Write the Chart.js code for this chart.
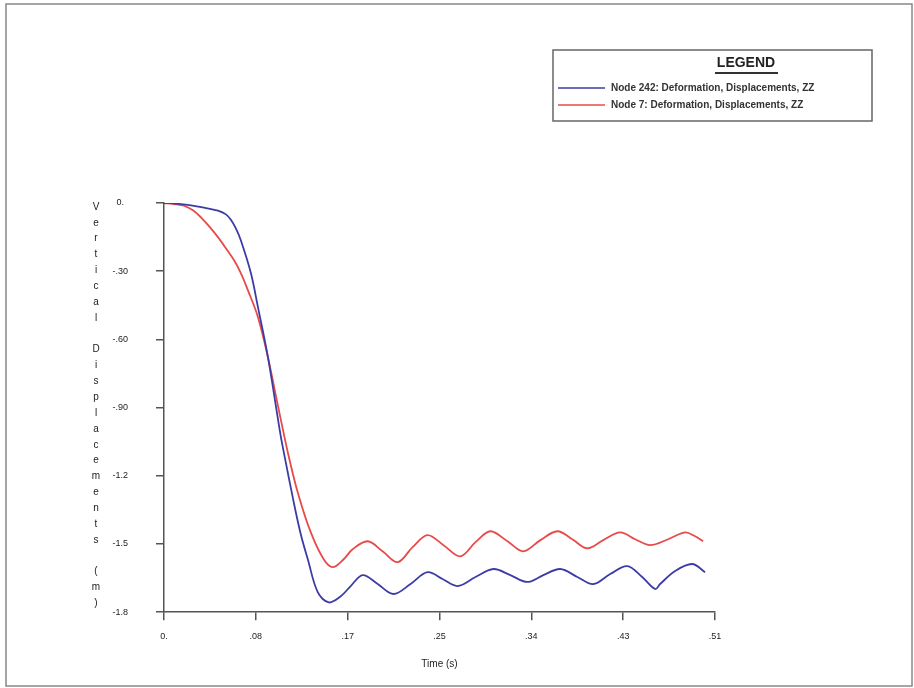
<!DOCTYPE html>
<html>
<head>
<meta charset="utf-8">
<script src="https://cdn.jsdelivr.net/npm/chart.js@4"></script>
<style>
  body { margin: 0; background: #fff; }
</style>
</head>
<body>
<canvas id="chart" width="914" height="688"></canvas>
<script>
// Axis ticks
const xTickValues = [0, 0.085, 0.17, 0.255, 0.34, 0.425, 0.51];
const xTickLabels = ['0.', '.08', '.17', '.25', '.34', '.43', '.51'];
const yTickValues = [0, -0.3, -0.6, -0.9, -1.2, -1.5, -1.8];
const yTickLabels = ['0.', '-.30', '-.60', '-.90', '-1.2', '-1.5', '-1.8'];

// Node 242 (blue) - time (s) / vertical displacement (m)
const node242Time = [0, 0.0065, 0.025, 0.0388, 0.0499, 0.0573, 0.0619, 0.0665, 0.0711, 0.0804,
  0.0869, 0.0961, 0.1081, 0.1109, 0.1201, 0.1266, 0.1331, 0.1423, 0.1525, 0.1636,
  0.1728, 0.1839, 0.1978, 0.2125, 0.2282, 0.2439, 0.2578, 0.2717, 0.2883, 0.3049,
  0.3206, 0.3363, 0.3511, 0.3668, 0.3826, 0.3973, 0.4130, 0.4287, 0.4426, 0.4546,
  0.4592, 0.4731, 0.4888, 0.5008];
const node242Disp = [0, -0.001, -0.010, -0.023, -0.034, -0.050, -0.074, -0.112, -0.164, -0.308,
  -0.457, -0.676, -1.027, -1.097, -1.317, -1.457, -1.567, -1.712, -1.757, -1.730,
  -1.685, -1.637, -1.676, -1.720, -1.676, -1.624, -1.654, -1.685, -1.645, -1.610,
  -1.637, -1.667, -1.637, -1.610, -1.645, -1.676, -1.632, -1.597, -1.645, -1.698,
  -1.676, -1.619, -1.588, -1.624];

// Node 7 (red)
const node7Time = [0, 0.0111, 0.0185, 0.0268, 0.0342, 0.0416, 0.0499, 0.0573, 0.0647, 0.0711,
  0.0776, 0.0869, 0.0961, 0.1053, 0.1146, 0.1238, 0.1358, 0.1478, 0.1562, 0.1663,
  0.1746, 0.1885, 0.2023, 0.2162, 0.2301, 0.2439, 0.2587, 0.2744, 0.2883, 0.3021,
  0.3179, 0.3326, 0.3483, 0.3641, 0.3779, 0.3918, 0.4066, 0.4223, 0.4361, 0.4500,
  0.4666, 0.4823, 0.4916, 0.4990];
const node7Disp = [0, -0.006, -0.012, -0.032, -0.063, -0.102, -0.150, -0.199, -0.251, -0.308,
  -0.383, -0.501, -0.676, -0.888, -1.097, -1.273, -1.448, -1.567, -1.602, -1.567,
  -1.523, -1.488, -1.532, -1.580, -1.514, -1.461, -1.505, -1.554, -1.492, -1.444,
  -1.488, -1.532, -1.483, -1.444, -1.479, -1.519, -1.483, -1.449, -1.479, -1.505,
  -1.479, -1.449, -1.466, -1.488];

const toPoints = (xs, ys) => xs.map((x, i) => ({ x: x, y: ys[i] }));

const yTitle = 'Vertical Displacements (m)';
const axisColor = '#555';
const textColor = '#222';
const fontFamily = '"Liberation Sans", Arial, sans-serif';

// white background, outer frame, stacked y title and boxed legend
const decorations = {
  id: 'decorations',
  beforeDraw(chart) {
    const ctx = chart.ctx;
    ctx.save();
    ctx.fillStyle = '#fff';
    ctx.fillRect(0, 0, chart.width, chart.height);
    ctx.restore();
  },
  afterDraw(chart) {
    const ctx = chart.ctx;
    ctx.save();
    // outer frame
    ctx.strokeStyle = '#888';
    ctx.lineWidth = 1.5;
    ctx.strokeRect(6, 4, 906, 682);

    // y title, one letter under another
    ctx.fillStyle = textColor;
    ctx.font = '10px ' + fontFamily;
    ctx.textAlign = 'center';
    ctx.textBaseline = 'middle';
    yTitle.split('').forEach((ch, i) => {
      ctx.fillText(ch, 96, 207 + i * 15.85);
    });

    // legend box
    ctx.strokeStyle = '#666';
    ctx.lineWidth = 1.5;
    ctx.strokeRect(553, 50, 319, 71);
    ctx.font = 'bold 14px ' + fontFamily;
    ctx.fillStyle = '#222';
    ctx.fillText('LEGEND', 746, 63);
    ctx.strokeStyle = '#333';
    ctx.lineWidth = 2;
    ctx.beginPath();
    ctx.moveTo(715, 73);
    ctx.lineTo(778, 73);
    ctx.stroke();

    ctx.font = 'bold 10px ' + fontFamily;
    ctx.textAlign = 'left';
    chart.data.datasets.forEach((ds, i) => {
      const y = 88 + i * 17;
      ctx.strokeStyle = ds.borderColor;
      ctx.lineWidth = 1.5;
      ctx.beginPath();
      ctx.moveTo(558, y);
      ctx.lineTo(605, y);
      ctx.stroke();
      ctx.fillStyle = '#333';
      ctx.fillText(ds.label, 611, y);
    });
    ctx.restore();
  }
};

new Chart(document.getElementById('chart'), {
  type: 'line',
  data: {
    datasets: [
      {
        label: 'Node 242: Deformation, Displacements, ZZ',
        data: toPoints(node242Time, node242Disp),
        borderColor: '#3c3ca6',
        borderWidth: 1.8,
        pointRadius: 0,
        tension: 0.35,
        fill: false
      },
      {
        label: 'Node 7: Deformation, Displacements, ZZ',
        data: toPoints(node7Time, node7Disp),
        borderColor: '#e84a4a',
        borderWidth: 1.8,
        pointRadius: 0,
        tension: 0.35,
        fill: false
      }
    ]
  },
  options: {
    responsive: false,
    animation: false,
    devicePixelRatio: 1,
    layout: { padding: { left: 84.5, top: 203, right: 199, bottom: 14 } },
    plugins: {
      legend: { display: false },
      tooltip: { enabled: false }
    },
    scales: {
      x: {
        type: 'linear',
        min: 0,
        max: 0.51,
        afterBuildTicks: scale => { scale.ticks = xTickValues.map(v => ({ value: v })); },
        grid: { drawOnChartArea: false, drawTicks: true, tickLength: 8, color: axisColor, lineWidth: 1.5 },
        border: { display: true, color: axisColor, width: 1.5 },
        ticks: {
          autoSkip: false,
          maxRotation: 0,
          padding: 11,
          color: textColor,
          font: { family: fontFamily, size: 9 },
          callback: (v, i) => xTickLabels[i]
        },
        title: {
          display: true,
          text: 'Time (s)',
          color: textColor,
          padding: { top: 5, bottom: 4 },
          font: { family: fontFamily, size: 10 }
        }
      },
      y: {
        type: 'linear',
        min: -1.8,
        max: 0,
        afterBuildTicks: scale => { scale.ticks = yTickValues.map(v => ({ value: v })); },
        grid: { drawOnChartArea: false, drawTicks: true, tickLength: 8, color: axisColor, lineWidth: 1.5 },
        border: { display: true, color: axisColor, width: 1.5 },
        ticks: {
          autoSkip: false,
          padding: 28,
          crossAlign: 'center',
          color: textColor,
          font: { family: fontFamily, size: 9 },
          callback: (v, i) => yTickLabels[i]
        }
      }
    }
  },
  plugins: [decorations]
});
</script>
</body>
</html>
